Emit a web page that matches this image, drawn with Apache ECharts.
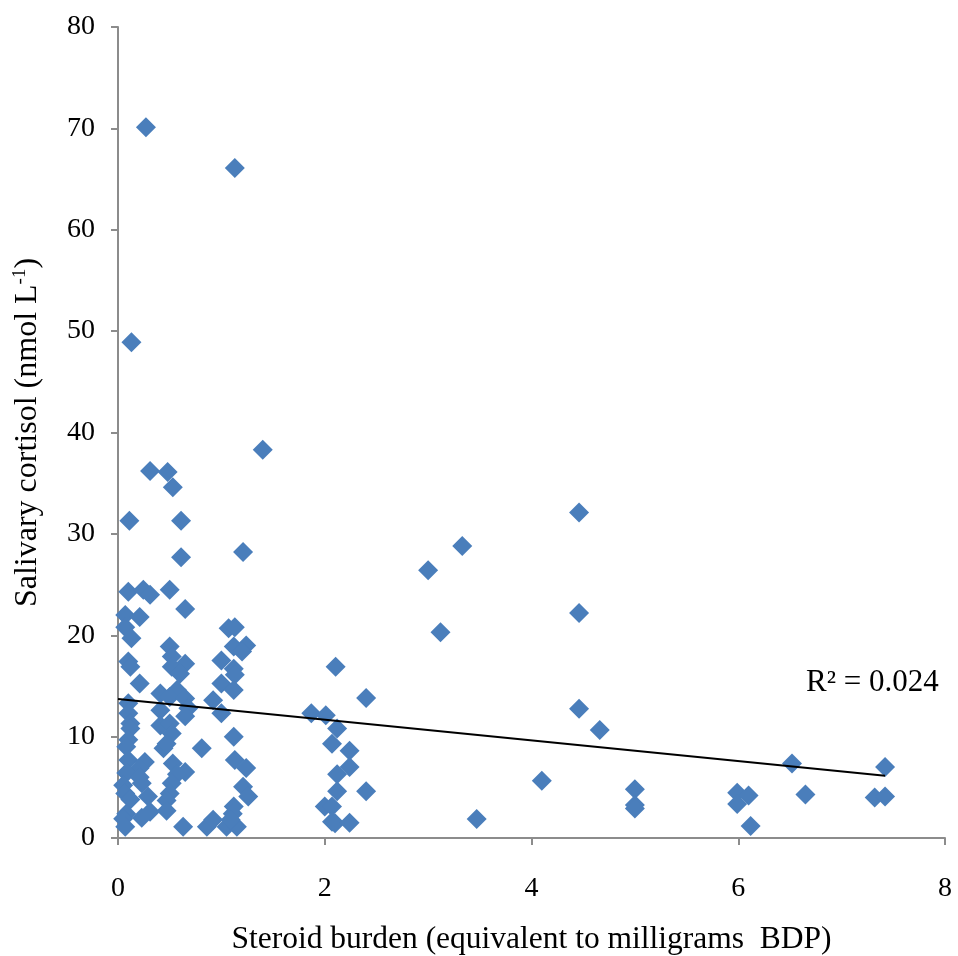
<!DOCTYPE html>
<html><head><meta charset="utf-8">
<script src="https://cdn.jsdelivr.net/npm/echarts@6/dist/echarts.min.js"></script>
<style>html,body{margin:0;padding:0;background:#fff}#c{width:958px;height:956px}</style>
</head><body><div id="c"></div>
<script>
// steroid burden (mg BDP)
const xValues = [
0.27,1.13,0.13,1.40,0.31,0.48,0.53,0.11,0.61,0.61,1.21,
0.10,0.245,0.31,0.50,0.65,0.07,0.21,0.07,0.13,1.07,1.13,1.12,1.24,1.20,0.50,0.52,0.10,0.12,0.65,0.52,0.60,
1.00,1.12,1.13,0.21,1.00,1.12,0.41,0.57,0.50,0.65,0.92,0.10,0.68,0.41,1.00,0.65,0.10,0.12,0.41,0.50,0.12,
1.12,0.52,0.10,0.08,0.44,0.81,0.47,0.10,0.26,0.21,0.53,1.24,1.13,0.65,0.57,0.08,0.21,0.05,0.23,0.52,1.21,
1.26,0.07,0.29,0.50,0.12,0.47,1.12,1.11,0.08,0.31,0.47,0.23,0.05,0.63,0.07,0.86,0.92,1.05,1.15,1.09,
2.105,2.40,1.87,2.01,2.12,2.07,2.24,2.24,2.12,2.12,2.40,2.00,2.07,2.07,2.10,2.24,
4.46,3.33,3.00,3.12,4.46,4.46,4.66,4.10,3.47,5.00,5.00,5.00,
5.99,6.10,5.99,6.12,6.52,6.65,7.32,7.42,7.42
];
// salivary cortisol (nmol/L)
const yValues = [
70.1,66.1,48.9,38.3,36.2,36.1,34.6,31.3,31.3,27.7,28.2,
24.3,24.5,24.0,24.5,22.6,22.0,21.8,20.8,19.7,20.7,20.8,18.9,19.0,18.4,18.9,17.9,17.4,16.9,17.2,16.9,16.2,
17.5,16.7,16.1,15.25,15.25,14.6,14.25,14.6,13.9,13.75,13.6,13.3,12.8,12.6,12.3,12.0,12.3,11.3,11.1,11.3,10.8,
10.0,10.3,9.7,9.0,8.85,8.85,9.3,7.7,7.5,6.9,7.35,6.9,7.7,6.5,6.3,6.4,6.0,5.2,5.4,5.4,5.05,
4.1,4.4,4.1,4.4,3.8,3.7,3.1,2.4,2.4,2.6,2.7,2.0,1.9,1.1,1.1,1.1,1.8,1.1,1.1,1.8,
16.9,13.8,12.3,12.1,10.8,9.3,8.6,7.0,6.3,4.6,4.6,3.1,3.1,1.6,1.45,1.5,
32.1,28.8,26.4,20.3,22.2,12.75,10.65,5.65,1.87,4.8,3.25,2.9,
4.46,4.2,3.35,1.18,7.36,4.3,4.0,4.1,7.0
];
const xTicks = [0,2,4,6,8];
const yTicks = [0,10,20,30,40,50,60,70,80];
const trendIntercept = 13.7;
const trendSlope = -1.02;
const trendXRange = [0, 7.42];
const r2Label = 'R² = 0.024';

const points = xValues.map((x,i)=>[x,yValues[i]]);
const trend = trendXRange.map(x=>[x, trendIntercept + trendSlope*x]);
const font = '"Liberation Serif","Times New Roman",serif';
const axisGray = '#8c8c8c';

const chart = echarts.init(document.getElementById('c'));
chart.setOption({
  animation:false,
  grid:{left:118, right:13, top:27, bottom:118, containLabel:false, outerBoundsMode:'none'},
  xAxis:{
    type:'value', min:xTicks[0], max:xTicks[xTicks.length-1], interval:2,
    name:'Steroid burden (equivalent to milligrams  BDP)', nameLocation:'middle', nameGap:86,
    nameTextStyle:{fontFamily:font, fontSize:31.5, color:'#000'},
    axisLine:{onZero:false, lineStyle:{color:axisGray, width:2}},
    axisTick:{show:true, inside:false, length:7, lineStyle:{color:axisGray, width:2}},
    axisLabel:{fontFamily:font, fontSize:28, color:'#000', margin:37},
    splitLine:{show:false}
  },
  yAxis:{
    type:'value', min:yTicks[0], max:yTicks[yTicks.length-1], interval:10,
    name:'Salivary cortisol (nmol L{sup|-1})', nameLocation:'middle', nameGap:74,
    nameTextStyle:{fontFamily:font, fontSize:32, color:'#000',
      rich:{sup:{fontFamily:font, fontSize:19, color:'#000', verticalAlign:'top', padding:[0,0,14,0]}}},
    axisLine:{show:true, lineStyle:{color:axisGray, width:2}},
    axisTick:{show:true, inside:false, length:7, lineStyle:{color:axisGray, width:2}},
    axisLabel:{fontFamily:font, fontSize:28, color:'#000', margin:23},
    splitLine:{show:false}
  },
  series:[
    {type:'scatter', data:points, symbol:'diamond', symbolSize:20,
     itemStyle:{color:'#4a7ebb', opacity:1}, z:2},
    {type:'line', data:trend, symbol:'none', lineStyle:{color:'#000', width:2}, z:3}
  ],
  graphic:[{type:'text', left:806, top:667,
    style:{text:r2Label, fontFamily:font, fontSize:31, fill:'#000'}}]
});
</script></body></html>
